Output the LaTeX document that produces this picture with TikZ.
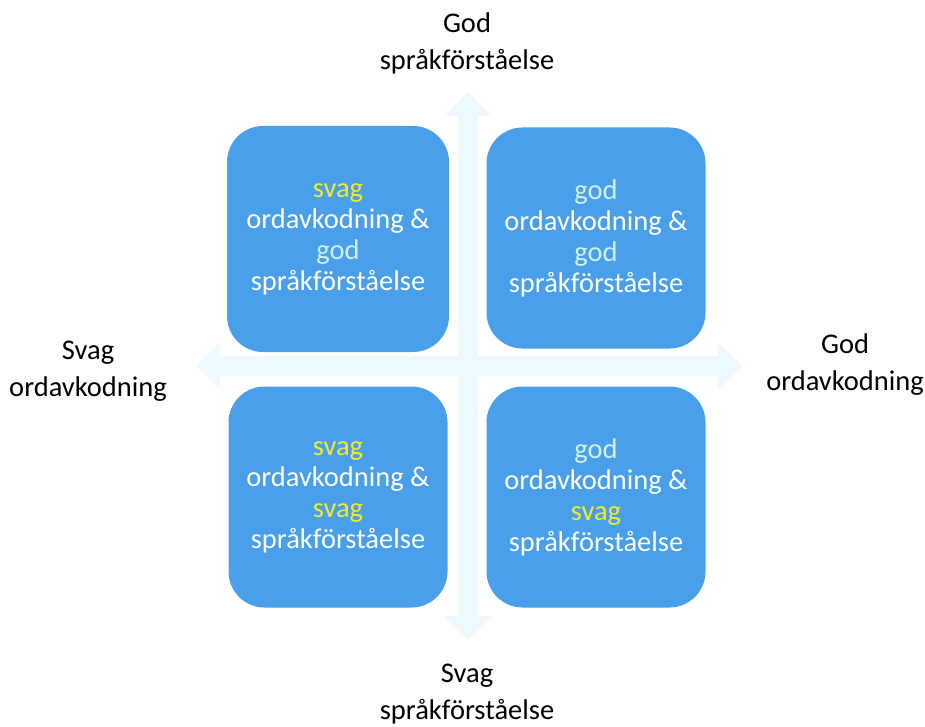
\documentclass[tikz,border=0pt]{standalone}
\usepackage{fontspec}
\setmainfont{Carlito}
\usetikzlibrary{arrows.meta,positioning}
\definecolor{boxc}{HTML}{4A9FEB}
\definecolor{weakc}{HTML}{F4EA2C}
\definecolor{goodc}{HTML}{CFF3EC}
\definecolor{axisc}{HTML}{EEF9FD}

\begin{document}
\begin{tikzpicture}[x=1pt, y=-1pt,
  quad/.style={fill=boxc, rounded corners=36pt, minimum width=219pt, minimum height=221pt,
    text=white, align=center, font=\fontsize{28.5}{31}\selectfont},
  pole/.style={align=center, font=\fontsize{28.5}{37}\selectfont},
  axis/.style={axisc, line width=20pt, {Triangle[width=46pt,length=24pt]}-{Triangle[width=46pt,length=24pt]}}]
  \useasboundingbox (0,0) rectangle (925,727);
  % axes behind the boxes
  \coordinate (north) at (468,92);
  \coordinate (south) at (468,640);
  \coordinate (west) at (196,366);
  \coordinate (east) at (742,366);
  \draw[axis] (north) -- (south);
  \draw[axis] (west) -- (east);
  % the four quadrants
  \node[quad, minimum width=222pt, minimum height=226pt] (weakgood) at (338,239)
    {\textcolor{weakc}{svag}\\ordavkodning \&\\\textcolor{goodc}{god}\\språkförståelse};
  \node[quad] (goodgood) at (596,238)
    {\textcolor{goodc}{god}\\ordavkodning \&\\\textcolor{goodc}{god}\\språkförståelse};
  \node[quad] (weakweak) at (338,497)
    {\textcolor{weakc}{svag}\\ordavkodning \&\\\textcolor{weakc}{svag}\\språkförståelse};
  \node[quad] (goodweak) at (596,497)
    {\textcolor{goodc}{god}\\ordavkodning \&\\\textcolor{weakc}{svag}\\språkförståelse};
  % pole labels
  \node[pole] (top) at (467,43) {God\\språkförståelse};
  \node[pole] (bottom) at (467,694) {Svag\\språkförståelse};
  \node[pole] (left) at (88,371) {Svag\\ordavkodning};
  \node[pole] (right) at (845,365) {God\\ordavkodning};
\end{tikzpicture}
\end{document}
